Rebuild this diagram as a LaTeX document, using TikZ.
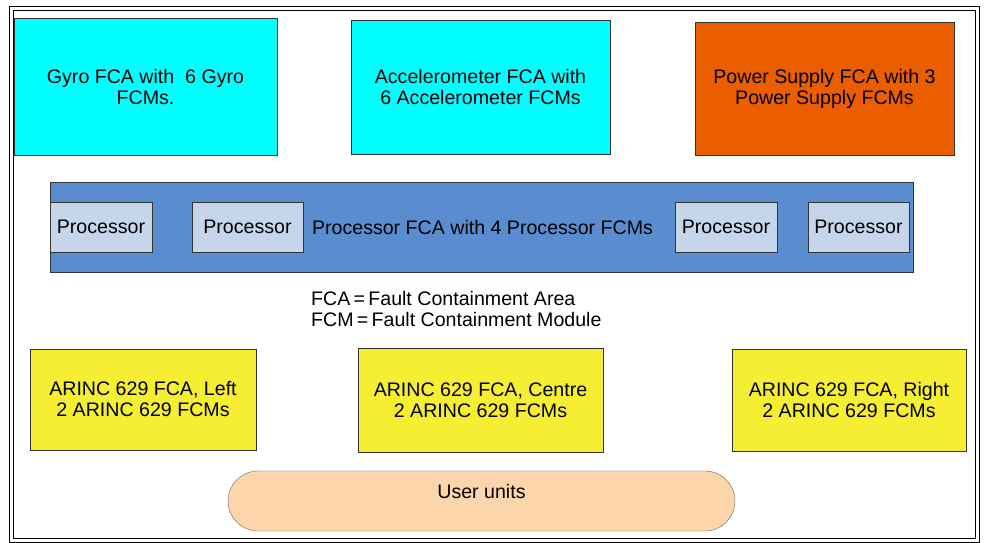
\documentclass[tikz,border=0pt]{standalone}
\usepackage{fontspec}
\setmainfont{Liberation Sans}
\definecolor{gyrocyan}{RGB}{0,255,255}
\definecolor{psorange}{RGB}{235,94,0}
\definecolor{fcablue}{RGB}{90,141,207}
\definecolor{proclight}{RGB}{197,213,234}
\definecolor{arincyellow}{RGB}{245,238,50}
\definecolor{userpeach}{RGB}{253,213,170}
\begin{document}
\begin{tikzpicture}[x=1pt,y=-1pt]

      \useasboundingbox (0,0) rectangle (985,543);
      \fill[white] (0,0) rectangle (985,543);

      % frame
      \draw[line width=.7pt] (9,6) rectangle (979,542);
      \draw[line width=.7pt] (13,10) rectangle (975,538);

      \begin{scope}[every node/.style={draw=black!80,thin,inner sep=0pt,align=center,
          font=\fontsize{19.6}{21}\selectfont}]
        \node[fill=gyrocyan,minimum width=263pt,minimum height=137pt] (gyro)  at (145.5,86.5) {Gyro FCA with \ 6 Gyro\\FCMs.};
        \node[fill=gyrocyan,minimum width=259pt,minimum height=134pt] (accel) at (480.5,87)   {Accelerometer FCA with\\6 Accelerometer FCMs};
        \node[fill=psorange,minimum width=259pt,minimum height=133pt] (power) at (824.5,88.5) {Power Supply FCA with 3\\Power Supply FCMs};
        \node[fill=fcablue,minimum width=863pt,minimum height=90pt] (procfca) at (481.5,227) {};
      \end{scope}

      \begin{scope}[every node/.style={draw=black!80,thin,fill=proclight,inner sep=0pt,
          minimum height=50pt,font=\fontsize{19.6}{21}\selectfont}]
        \node[minimum width=102pt] (p1) at (101,227)   {Processor};
        \node[minimum width=111pt] (p2) at (247.5,227) {Processor};
        \node[minimum width=102pt] (p3) at (726,227)   {Processor};
        \node[minimum width=101pt] (p4) at (858.5,227) {Processor};
      \end{scope}

      \node[font=\fontsize{19.6}{21}\selectfont,inner sep=0pt] (fcalabel) at (482.5,227) {Processor FCA with 4 Processor FCMs};

      \node[anchor=north west,align=left,inner sep=0pt,font=\fontsize{19.6}{21}\selectfont] (legend) at (311,291)
        {FCA\,=\,Fault Containment Area\\FCM\,=\,Fault Containment Module};

      \begin{scope}[every node/.style={draw=black!80,thin,fill=arincyellow,inner sep=0pt,align=center,
          font=\fontsize{19.6}{21}\selectfont}]
        \node[minimum width=226pt,minimum height=101pt] (left)   at (143,399.5) {ARINC 629 FCA, Left\\2 ARINC 629 FCMs};
        \node[minimum width=245pt,minimum height=104pt] (centre) at (480.5,400) {ARINC 629 FCA, Centre\\2 ARINC 629 FCMs};
        \node[minimum width=234pt,minimum height=102pt] (right)  at (849,400)   {ARINC 629 FCA, Right\\2 ARINC 629 FCMs};
      \end{scope}

      \node[draw=black!60,thin,fill=userpeach,rounded corners=30pt,minimum width=507pt,minimum height=60pt,
        inner sep=0pt,font=\fontsize{19.6}{21}\selectfont] (users) at (481.5,501) {\raisebox{20pt}{User units}};

    \end{tikzpicture}
\end{document}
